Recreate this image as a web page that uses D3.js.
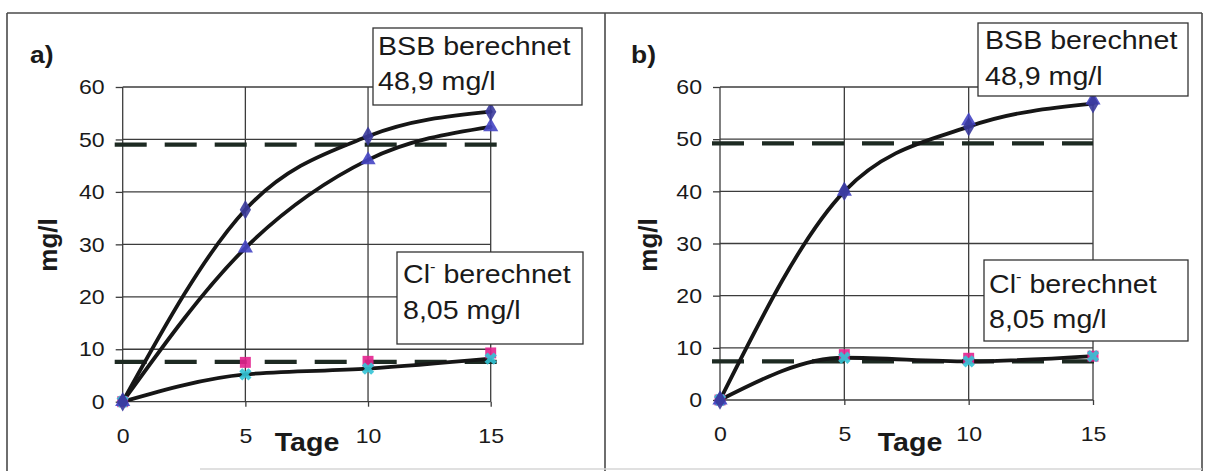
<!DOCTYPE html>
<html><head><meta charset="utf-8">
<script src="https://cdn.jsdelivr.net/npm/d3@7"></script>
<style>
body{margin:0;background:#fff}
svg{display:block}
text{font-family:"Liberation Sans",Arial,sans-serif;fill:#1a1a1a;white-space:pre}
</style>
</head><body>
<svg id="c" width="1205" height="471"></svg>
<script>
// ---- data ----
const days = [0, 5, 10, 15];
const xTicks = [0, 5, 10, 15];
const yTicks = [0, 10, 20, 30, 40, 50, 60];
const panelLabels = ["a)", "b)"];
const bsbDiamondA = [0, 36.6, 50.6, 55.3];
const bsbTriangleA = [0, 29.3, 46.1, 52.4];
const clSquareA = [0, 7.5, 7.7, 9.3];
const clCrossA = [0, 5.2, 6.3, 8.2];
const bsbDiamondB = [0, 40.0, 52.4, 56.8];
const bsbTriangleB = [0, 40.0, 53.5, 57.5];
const clSquareB = [0, 8.7, 8.0, 8.4];
const clCrossB = [0, 8.1, 7.4, 8.4];
const bsbRefLevel = [49.0, 49.2];
const clRefLevel = [7.6, 7.4];
const bsbLabel = ["BSB berechnet", "48,9 mg/l"];
const clLabel = ["Cl", "-", " berechnet", "8,05 mg/l"];
const xTitle = "Tage", yTitle = "mg/l";

// ---- layout ----
const panels = [
  { left: 122.7, right: 490.7, top: 87, bottom: 401.7,
    lab: [30, 63], ytl: [57, 245], xtl: [307, 451],
    bsbBox: [373, 28, 209, 77], bsbTxt: [5, 27, 62],
    clBox: [397, 252, 186, 92], clTxt: [6, 31, 67],
    series: { diamond: bsbDiamondA, triangle: bsbTriangleA, square: clSquareA, cross: clCrossA },
    curves: [bsbDiamondA, bsbTriangleA, clCrossA],
    refs: [bsbRefLevel[0], clRefLevel[0]], refEnd: [7, 16] },
  { left: 720, right: 1093, top: 87, bottom: 400,
    lab: [631, 63], ytl: [657, 245], xtl: [910, 451],
    bsbBox: [978, 23, 210, 73], bsbTxt: [7, 26, 62],
    clBox: [984, 260, 204, 81], clTxt: [5, 33, 68],
    series: { diamond: bsbDiamondB, triangle: bsbTriangleB, square: clSquareB, cross: clCrossB },
    curves: [bsbDiamondB, clCrossB],
    refs: [bsbRefLevel[1], clRefLevel[1]], refEnd: [0, 2] }
];

const svg = d3.select("#c");
const gridCol = "#3c3c3c";
const stretch = 1.1;

// panel frames
const frame = svg.append("g").attr("stroke", "#4a4a4a").attr("stroke-width", 1.6);
frame.append("line").attr("x1", 7).attr("x2", 1202).attr("y1", 13).attr("y2", 13);
[7, 605, 1202].forEach(x => frame.append("line").attr("x1", x).attr("x2", x).attr("y1", 13).attr("y2", 471));
svg.append("line").attr("x1", 200).attr("x2", 1202).attr("y1", 469).attr("y2", 469)
  .attr("stroke", "#d6d6d6").attr("stroke-width", 1.5);

panels.forEach((p, i) => {
  const g = svg.append("g");
  const x = d3.scaleLinear().domain([0, 15]).range([p.left, p.right]);
  const y = d3.scaleLinear().domain([0, 60]).range([p.bottom, p.top]);

  // grid
  const grid = g.append("g").attr("stroke", gridCol).attr("stroke-width", 1.3);
  yTicks.forEach(t => grid.append("line").attr("x1", x(0)).attr("x2", x(15)).attr("y1", y(t)).attr("y2", y(t)));
  xTicks.forEach(t => grid.append("line").attr("x1", x(t)).attr("x2", x(t)).attr("y1", y(60)).attr("y2", y(0)));

  // axes
  const ya = g.append("g").attr("transform", `translate(${x(0)},0)`)
    .call(d3.axisLeft(y).tickValues(yTicks).tickSize(7).tickPadding(11));
  const xa = g.append("g").attr("transform", `translate(0,${y(0)})`)
    .call(d3.axisBottom(x).tickValues(xTicks).tickSize(5).tickPadding(21));
  [ya, xa].forEach(a => {
    a.select(".domain").remove();
    a.selectAll("line").attr("stroke", gridCol).attr("stroke-width", 1.3);
    a.selectAll("text").attr("font-size", 21).attr("fill", "#1a1a1a").attr("class", "st")
      .style("font-family", '"Liberation Sans",Arial,sans-serif');
  });

  // titles
  g.append("text").attr("class", "st").attr("x", p.lab[0]).attr("y", p.lab[1]).attr("font-size", 24)
    .attr("font-weight", "bold").text(panelLabels[i]);
  g.append("text").attr("transform", `translate(${p.ytl[0]},${p.ytl[1]}) rotate(-90)`)
    .attr("text-anchor", "middle").attr("font-size", 26).attr("font-weight", "bold").text(yTitle);
  g.append("text").attr("class", "st").attr("x", p.xtl[0]).attr("y", p.xtl[1]).attr("text-anchor", "middle")
    .attr("font-size", 26).attr("font-weight", "bold").text(xTitle);

  // reference dashed lines
  p.refs.forEach((v, k) => {
    g.append("line").attr("x1", x(0) - 8).attr("x2", x(15) + p.refEnd[k])
      .attr("y1", y(v)).attr("y2", y(v))
      .attr("stroke", "#1d2a22").attr("stroke-width", 4.2).attr("stroke-dasharray", "32,18");
  });

  // smoothed curves
  const line = d3.line().x((d, j) => x(days[j])).y(d => y(d)).curve(d3.curveMonotoneX);
  p.curves.forEach(c => {
    g.append("path").attr("d", line(c)).attr("fill", "none")
      .attr("stroke", "#161616").attr("stroke-width", 3.8).attr("stroke-linecap", "round");
  });

  // markers
  const mk = [
    { data: p.series.square, sym: d3.symbolSquare, size: 120, col: "#e3228e", rot: 0 },
    { data: p.series.cross, sym: d3.symbolCross, size: 95, col: "#33c4d6", rot: 45 },
    { data: p.series.triangle, sym: d3.symbolTriangle, size: 100, col: "#4545c4", rot: 0 },
    { data: p.series.diamond, sym: d3.symbolDiamond, size: 110, col: "#3a3a9c", rot: 0 }
  ];
  mk.forEach(m => {
    g.append("g").selectAll("path").data(m.data).join("path")
      .attr("d", d3.symbol().type(m.sym).size(m.size))
      .attr("transform", (d, j) => `translate(${x(days[j])},${y(d)}) rotate(${m.rot})`)
      .attr("fill", m.col).attr("opacity", 0.9);
  });

  // label boxes
  const b1 = p.bsbBox;
  g.append("rect").attr("x", b1[0]).attr("y", b1[1]).attr("width", b1[2]).attr("height", b1[3])
    .attr("fill", "#fff").attr("stroke", "#333").attr("stroke-width", 1.3);
  g.append("text").attr("class", "st").attr("x", b1[0] + p.bsbTxt[0]).attr("y", b1[1] + p.bsbTxt[1]).attr("font-size", 26).text(bsbLabel[0]);
  g.append("text").attr("class", "st").attr("x", b1[0] + p.bsbTxt[0]).attr("y", b1[1] + p.bsbTxt[2]).attr("font-size", 26).text(bsbLabel[1]);

  const b2 = p.clBox;
  g.append("rect").attr("x", b2[0]).attr("y", b2[1]).attr("width", b2[2]).attr("height", b2[3])
    .attr("fill", "#fff").attr("stroke", "#333").attr("stroke-width", 1.3);
  const t = g.append("text").attr("class", "st").attr("x", b2[0] + p.clTxt[0]).attr("y", b2[1] + p.clTxt[1]).attr("font-size", 26);
  t.append("tspan").text(clLabel[0]);
  t.append("tspan").attr("font-size", 15).attr("dy", -11).text(clLabel[1]);
  t.append("tspan").attr("dy", 11).text(clLabel[2]);
  g.append("text").attr("class", "st").attr("x", b2[0] + p.clTxt[0]).attr("y", b2[1] + p.clTxt[2]).attr("font-size", 26).text(clLabel[3]);
});

// the scanned original is slightly stretched horizontally
svg.selectAll("text.st").each(function () {
  const w = this.getComputedTextLength();
  d3.select(this).attr("textLength", w * stretch).attr("lengthAdjust", "spacingAndGlyphs");
});
</script>
</body></html>
